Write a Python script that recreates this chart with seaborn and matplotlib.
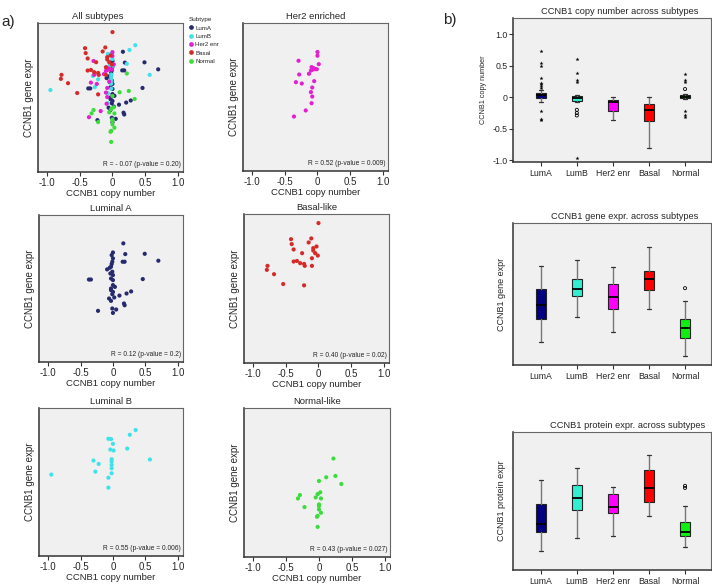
import numpy as np
import pandas as pd
import matplotlib
matplotlib.use('Agg')
import matplotlib.pyplot as plt
from matplotlib.lines import Line2D
import seaborn as sns

SUBTYPES = ['LumA', 'LumB', 'Her2 enr', 'Basal', 'Normal']

# --- a) scatter data: CCNB1 copy number vs CCNB1 gene expr (expr in arbitrary 0-10 units)
luma_cn = [0.16, 0.0, 0.19, 0.49, 0.70, -0.02, 0.0, -0.01, 0.15, 0.18, -0.02, -0.03, -0.09, -0.05,
           -0.01, 0.0, -0.37, -0.34, -0.03, 0.0, 0.46, 0.0, -0.03, 0.03, 0.0, -0.01, 0.10, 0.21,
           0.28, -0.06, -0.03, 0.17, 0.18, -0.01, 0.05, -0.23, 0.0, -0.03, 0.02, -0.04]
luma_expr = [8.07, 7.45, 7.34, 7.36, 6.89, 7.27, 7.05, 6.82, 6.82, 6.82, 6.66, 6.48, 6.30, 6.41,
             6.14, 5.91, 5.61, 5.61, 5.68, 5.57, 5.64, 5.23, 5.00, 5.11, 4.77, 4.61, 4.52, 4.66,
             4.80, 4.32, 4.16, 3.98, 3.86, 3.64, 3.57, 3.48, 3.34, 4.89, 4.39, 6.02]

lumb_cn = [0.35, 0.26, -0.07, -0.03, 0.0, -0.04, 0.01, 0.22, 0.57, -0.30, -0.02, -0.02, -0.22,
           -0.02, -0.02, -0.27, -0.02, -0.95, -0.07, -0.07]
lumb_expr = [8.51, 8.19, 7.92, 7.90, 7.58, 7.19, 7.13, 7.26, 6.52, 6.45, 6.54, 6.38, 6.22,
             6.15, 5.93, 5.70, 5.59, 5.50, 5.29, 4.62]

her2_cn = [0.0, 0.0, -0.29, 0.02, -0.09, -0.06, -0.08, -0.04, -0.01, -0.13, -0.28, -0.05, -0.33,
           -0.24, -0.08, -0.10, -0.08, -0.09, -0.18, -0.36, -0.10]
her2_expr = [8.04, 7.79, 7.45, 7.22, 7.02, 6.95, 6.84, 6.88, 6.88, 6.57, 6.52, 6.07, 6.00,
             5.91, 5.64, 5.33, 5.03, 4.58, 4.09, 3.68, 6.79]

basal_cn = [0.0, -0.42, -0.11, -0.41, -0.15, -0.38, -0.03, -0.08, -0.08, -0.25, -0.05, -0.01,
            -0.10, -0.38, -0.33, -0.28, -0.22, -0.21, -0.10, -0.78, -0.79, -0.68, -0.54, -0.22]
basal_expr = [9.39, 8.31, 8.36, 7.98, 8.09, 7.62, 7.82, 7.71, 7.55, 7.37, 7.37, 7.21,
              7.03, 6.81, 6.85, 6.70, 6.65, 6.52, 6.52, 6.52, 6.25, 5.96, 5.30, 5.21]

normal_cn = [0.22, 0.11, 0.25, 0.0, 0.34, 0.02, -0.02, -0.29, -0.05, -0.32, 0.03, 0.0, 0.0,
             -0.22, 0.03, -0.02, -0.03, -0.02, 0.0]
normal_expr = [6.61, 5.35, 5.44, 5.10, 4.90, 4.34, 4.22, 4.16, 4.00, 3.93, 3.93, 3.53, 3.42,
               3.35, 2.97, 2.76, 2.70, 2.02, 3.19]

# --- b) box plot summaries (whisker low, Q1, median, Q3, whisker high) per subtype
cn_lo = [-0.08, -0.07, -0.37, -0.81, -0.03]
cn_q1 = [-0.02, -0.06, -0.22, -0.38, -0.02]
cn_med = [0.03, -0.02, -0.07, -0.21, 0.0]
cn_q3 = [0.07, 0.02, -0.05, -0.10, 0.03]
cn_hi = [0.12, 0.03, 0.01, 0.01, 0.05]
cn_stars = [[0.74, 0.54, 0.50, 0.31, 0.23, 0.21, 0.18, 0.15, -0.22, -0.34, -0.37],
            [0.61, 0.38, 0.28, 0.24, -0.97], [], [], [0.37, 0.27, 0.24, -0.22, -0.29, -0.32]]
cn_circles = [[], [-0.20, -0.25, -0.29], [], [], [0.13]]

gene_lo = [1.65, 3.36, 2.31, 3.93, 0.61]
gene_q1 = [3.22, 4.87, 3.95, 5.29, 1.88]
gene_med = [4.26, 5.36, 4.82, 6.05, 2.64]
gene_q3 = [5.34, 6.07, 5.67, 6.61, 3.22]
gene_hi = [6.94, 7.39, 6.87, 8.31, 4.49]
gene_stars = [[], [], [], [], []]
gene_circles = [[], [], [], [], [5.41]]

prot_lo = [1.36, 2.35, 2.49, 3.92, 1.67]
prot_q1 = [2.74, 4.36, 4.16, 4.92, 2.45]
prot_med = [3.32, 5.23, 4.60, 5.91, 2.78]
prot_q3 = [4.79, 6.15, 5.50, 7.22, 3.51]
prot_hi = [6.49, 7.38, 5.98, 8.33, 4.65]
prot_stars = [[], [], [], [], []]
prot_circles = [[], [], [], [], [6.10, 5.95]]

scatter_colors = {'LumA': '#262a6e', 'LumB': '#40e2ea', 'Her2 enr': '#e31fcf',
                  'Basal': '#d62a2a', 'Normal': '#3ddc3d'}
box_colors = ['#000080', '#33efcf', '#ff00ff', '#ff0000', '#11ee11']

sns.set_style('white')
plt.rcParams['font.family'] = ['Liberation Sans', 'DejaVu Sans']

W, H = 712, 587
fig = plt.figure(figsize=(W / 100, H / 100), dpi=100)


def ax_at(left, top, right, bottom):
    """add axes from pixel box of the reference image"""
    return fig.add_axes([left / W, 1 - bottom / H, (right - left) / W, (bottom - top) / H])


def style_frame(ax):
    ax.set_facecolor('#f0f0f0')
    for side in ['top', 'right']:
        ax.spines[side].set_color('#666666')
        ax.spines[side].set_linewidth(0.8)
    for side in ['left', 'bottom']:
        ax.spines[side].set_color('#333333')
        ax.spines[side].set_linewidth(1.1)


# long-form frame for the scatter panels
scatter_df = pd.concat([
    pd.DataFrame({'cn': luma_cn, 'expr': luma_expr, 'subtype': 'LumA'}),
    pd.DataFrame({'cn': lumb_cn, 'expr': lumb_expr, 'subtype': 'LumB'}),
    pd.DataFrame({'cn': her2_cn, 'expr': her2_expr, 'subtype': 'Her2 enr'}),
    pd.DataFrame({'cn': basal_cn, 'expr': basal_expr, 'subtype': 'Basal'}),
    pd.DataFrame({'cn': normal_cn, 'expr': normal_expr, 'subtype': 'Normal'}),
], ignore_index=True)


def scatter_panel(box, subset, title, rtext, title_x=0.5):
    ax = ax_at(*box)
    style_frame(ax)
    data = scatter_df[scatter_df['subtype'].isin(subset)]
    sns.scatterplot(data=data, x='cn', y='expr', hue='subtype', palette=scatter_colors,
                    s=9, linewidth=0, legend=False, ax=ax)
    ax.set_xlim(-1.14, 1.08)
    ax.set_ylim(0, 10)
    ax.set_xticks([-1, -0.5, 0, 0.5, 1], ['-1.0', '-0.5', '0', '0.5', '1.0'])
    ax.set_yticks([])
    ax.tick_params(axis='x', length=3, width=0.8, pad=1, labelsize=7, bottom=True,
                   color='#333333')
    ax.set_xlabel('CCNB1 copy number', fontsize=6.8, labelpad=1)
    ax.set_ylabel('CCNB1 gene expr', fontsize=7, labelpad=3)
    ax.set_title(title, fontsize=6.8, pad=3, x=title_x)
    ax.text(0.985, 0.025, rtext, transform=ax.transAxes, ha='right', va='bottom', fontsize=4.8)
    return ax


scatter_panel((38, 23, 183, 172), SUBTYPES, 'All subtypes', 'R = - 0.07 (p-value = 0.20)',
              title_x=0.41)
scatter_panel((243, 23, 388, 171), ['Her2 enr'], 'Her2 enriched', 'R = 0.52 (p-value = 0.009)')
scatter_panel((39, 215, 183, 362), ['LumA'], 'Luminal A', 'R = 0.12 (p-value = 0.2)')
scatter_panel((244, 214, 389, 363), ['Basal'], 'Basal-like', 'R = 0.40 (p-value = 0.02)')
scatter_panel((39, 408, 183, 556), ['LumB'], 'Luminal B', 'R = 0.55 (p-value = 0.006)')
scatter_panel((244, 408, 390, 557), ['Normal'], 'Normal-like', 'R = 0.43 (p-value = 0.027)')

# subtype legend beside the "All subtypes" panel
handles = [Line2D([], [], marker='o', linestyle='', markersize=3.4,
                  markerfacecolor=scatter_colors[s], markeredgewidth=0) for s in SUBTYPES]
fig.legend(handles, SUBTYPES, title='Subtype', loc='upper left',
           bbox_to_anchor=(184 / W, 1 - 13 / H), frameon=False, fontsize=4.4,
           title_fontsize=4.6, handletextpad=0.1, labelspacing=0.5, handlelength=1.0,
           borderpad=0.2, alignment='left')


def box_panel(box, lo, q1, med, q3, hi, stars, circles, title, ylabel, title_x, ylim,
              ylabel_size=6.5):
    ax = ax_at(*box)
    style_frame(ax)
    stats = [dict(whislo=a, q1=b, med=c, q3=d, whishi=e, label=s)
             for a, b, c, d, e, s in zip(lo, q1, med, q3, hi, SUBTYPES)]
    bp = ax.bxp(stats, positions=np.arange(5), widths=0.27, capwidths=0.12,
                patch_artist=True, showfliers=False,
                boxprops=dict(edgecolor='#222222', linewidth=0.8),
                medianprops=dict(color='black', linewidth=1.3),
                whiskerprops=dict(color='#777777', linewidth=1.0),
                capprops=dict(color='#333333', linewidth=0.9))
    for patch, c in zip(bp['boxes'], box_colors):
        patch.set_facecolor(c)
    star_df = pd.DataFrame([(i, v) for i, vals in enumerate(stars) for v in vals],
                           columns=['pos', 'val'])
    circ_df = pd.DataFrame([(i, v) for i, vals in enumerate(circles) for v in vals],
                           columns=['pos', 'val'])
    if len(star_df):
        sns.scatterplot(data=star_df, x='pos', y='val', marker='*', s=9, color='black',
                        linewidth=0, ax=ax)
    if len(circ_df):
        sns.scatterplot(data=circ_df, x='pos', y='val', marker='o', s=5, facecolor='none',
                        edgecolor='black', linewidth=0.6, ax=ax)
    ax.set_xlim(-0.77, 4.72)
    ax.set_ylim(*ylim)
    ax.set_xticks(np.arange(5), SUBTYPES)
    ax.tick_params(axis='x', length=3, width=0.8, pad=2, labelsize=6.3, bottom=True,
                   color='#333333')
    ax.set_xlabel('')
    ax.set_ylabel(ylabel, fontsize=ylabel_size, labelpad=5)
    ax.set_title(title, fontsize=6.7, pad=3, x=title_x)
    return ax


ax_cn = box_panel((513, 18, 711, 162), cn_lo, cn_q1, cn_med, cn_q3, cn_hi, cn_stars, cn_circles,
                  'CCNB1 copy number across subtypes', 'CCNB1 copy number', 0.54, (-1.03, 1.26),
                  ylabel_size=5.2)
ax_cn.set_yticks([1.0, 0.5, 0, -0.5, -1.0], ['1.0', '0.5', '0', '-0.5', '-1.0'])
ax_cn.tick_params(axis='y', length=3, width=0.8, pad=1, labelsize=6.3, left=True,
                  color='#333333')
ax_cn.yaxis.labelpad = 4

ax_gene = box_panel((513, 223, 711, 365), gene_lo, gene_q1, gene_med, gene_q3, gene_hi,
                    gene_stars, gene_circles, 'CCNB1 gene expr. across subtypes',
                    'CCNB1 gene expr', 0.566, (0, 10))
ax_gene.set_yticks([])

ax_prot = box_panel((513, 432, 711, 570), prot_lo, prot_q1, prot_med, prot_q3, prot_hi,
                    prot_stars, prot_circles, 'CCNB1 protein expr. across subtypes',
                    'CCNB1 protein expr', 0.58, (0, 10))
ax_prot.set_yticks([])

# panel letters
fig.text(1 / W, 1 - 26 / H, 'a)', fontsize=11)
fig.text(443 / W, 1 - 24 / H, 'b)', fontsize=11)

fig.savefig('out.png', dpi=100)
